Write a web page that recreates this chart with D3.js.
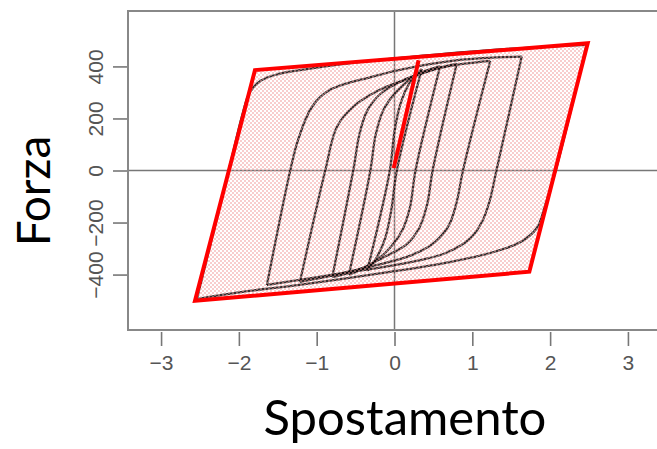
<!DOCTYPE html>
<html>
<head>
<meta charset="utf-8">
<script src="https://cdn.jsdelivr.net/npm/d3@7"></script>
<style>
  body { margin: 0; background: #fff; }
  svg { display: block; }
</style>
</head>
<body>
<svg width="657" height="449"></svg>
<script>
// Axis ticks
const xTicks = [-3, -2, -1, 0, 1, 2, 3]
const yTicks = [-400, -200, 0, 200, 400]

// Hysteresis loops: [displacement, force]
// each loop is split in a descending branch (top-right -> bottom-left)
// and a rising branch (bottom-left -> top-right)
const loop1Down = [[0.35, 390], [0.03, 0], [-0.04, -150], [-0.12, -260], [-0.22, -330], [-0.35, -385]]
const loop1Up = [[-0.35, -385], [-0.06, 0], [0.0, 150], [0.08, 260], [0.2, 340], [0.35, 390]]
const loop2Down = [[0.585, 400], [0.27, 0], [0.2, -140], [0.1, -230], [-0.05, -295], [-0.3, -360], [-0.585, -400]]
const loop2Up = [[-0.585, -400], [-0.31, 0], [-0.24, 140], [-0.13, 240], [0.05, 310], [0.3, 370], [0.585, 400]]
const loop3Down = [[0.8, 410], [0.49, 0], [0.42, -130], [0.32, -220], [0.15, -285], [-0.15, -335], [-0.45, -380], [-0.8, -410]]
const loop3Up = [[-0.8, -410], [-0.53, 0], [-0.45, 140], [-0.35, 230], [-0.18, 295], [0.1, 345], [0.45, 385], [0.8, 410]]
const loop4Down = [[1.23, 421], [0.88, 0], [0.8, -120], [0.7, -210], [0.52, -275], [0.22, -325], [-0.25, -365], [-0.75, -400], [-1.215, -428]]
const loop4Up = [[-1.215, -428], [-0.89, 0], [-0.74, 168], [-0.53, 245], [-0.19, 310], [0.15, 350], [0.6, 395], [1.23, 421]]
const loop5Down = [[1.635, 438], [1.31, 0], [1.22, -120], [1.12, -200], [0.97, -262], [0.65, -318], [0.07, -360], [-0.83, -402], [-1.64, -440]]
const loop5Up = [[-1.64, -440], [-1.34, 0], [-1.24, 117], [-1.06, 245], [-0.83, 310], [-0.28, 361], [0.07, 387], [0.84, 425], [1.635, 438]]
const loop6Down = [[2.47, 483], [2.08, 10], [1.93, -140], [1.83, -221], [1.62, -275], [1.23, -317], [0.71, -352], [-0.06, -390], [-1.2, -439], [-2.0, -468], [-2.54, -494]]
const loop6Up = [[-2.54, -494], [-2.13, 0], [-1.95, 220], [-1.86, 300], [-1.72, 345], [-1.5, 370], [-1.3, 382], [-0.57, 413], [0, 431], [1.23, 463], [2.47, 483]]

// Red envelope drawn over the loops, and the initial red branch
const envelope = [[-2.564, -501], [-1.793, 386], [2.483, 489], [1.733, -389]]
const firstBranch = [[-0.01, 9], [0.31, 424]]

const branches = [loop1Down, loop1Up, loop2Down, loop2Up, loop3Down, loop3Up,
  loop4Down, loop4Up, loop5Down, loop5Up, loop6Down, loop6Up]

const svg = d3.select('svg')

// Plot region (right side runs off the picture)
const x = d3.scaleLinear().domain([-3.425, 3.425]).range([128, 661])
const y = d3.scaleLinear().domain([-613, 613]).range([330, 11])

// Dotted pink fill pattern
const defs = svg.append('defs')
const pat = defs.append('pattern')
  .attr('id', 'dots')
  .attr('patternUnits', 'userSpaceOnUse')
  .attr('width', 4)
  .attr('height', 4)
pat.append('rect').attr('x', 0).attr('y', 0).attr('width', 2).attr('height', 2).attr('fill', '#f19c9c')
pat.append('rect').attr('x', 2).attr('y', 2).attr('width', 2).attr('height', 2).attr('fill', '#f19c9c')

defs.append('filter').attr('id', 'soft')
  .append('feGaussianBlur').attr('stdDeviation', 0.5)

// Zero lines
svg.append('line')
  .attr('x1', x.range()[0]).attr('x2', x.range()[1])
  .attr('y1', y(0)).attr('y2', y(0))
  .attr('stroke', '#777').attr('stroke-width', 1.5)
svg.append('line')
  .attr('x1', x(0)).attr('x2', x(0))
  .attr('y1', y.range()[1]).attr('y2', y.range()[0])
  .attr('stroke', '#777').attr('stroke-width', 1.5)

// Box
svg.append('rect')
  .attr('x', x.range()[0]).attr('y', y.range()[1])
  .attr('width', x.range()[1] - x.range()[0])
  .attr('height', y.range()[0] - y.range()[1])
  .attr('fill', 'none')
  .attr('stroke', '#888')
  .attr('stroke-width', 2)

// Axes
const xAxis = svg.append('g')
  .attr('transform', `translate(0, ${y.range()[0] + 2})`)
  .call(d3.axisBottom(x).tickValues(xTicks).tickFormat(d3.format('d'))
    .tickSize(14).tickSizeOuter(0).tickPadding(9))
xAxis.select('.domain').remove()
xAxis.selectAll('line').attr('stroke', '#777').attr('stroke-width', 1.6)
xAxis.selectAll('text')
  .attr('fill', '#555')
  .style('font-family', 'Liberation Sans, Arial, sans-serif')
  .style('font-size', '21px')

const yAxis = svg.append('g')
  .attr('transform', `translate(${x.range()[0] - 1}, 0)`)
  .call(d3.axisLeft(y).tickValues(yTicks).tickFormat(d3.format('d')).tickSize(14).tickSizeOuter(0))
yAxis.select('.domain').remove()
yAxis.selectAll('line').attr('stroke', '#777').attr('stroke-width', 1.6)
yAxis.selectAll('text')
  .attr('transform', 'rotate(-90)')
  .attr('x', 0)
  .attr('y', -31.5)
  .attr('dy', '0.35em')
  .attr('text-anchor', 'middle')
  .attr('fill', '#555')
  .style('font-family', 'Liberation Sans, Arial, sans-serif')
  .style('font-size', '21px')

// Loops
const line = d3.line()
  .x(d => x(d[0]))
  .y(d => y(d[1]))
  .curve(d3.curveCatmullRom.alpha(0.5))

svg.append('g')
  .attr('filter', 'url(#soft)')
  .selectAll('path')
  .data(branches)
  .enter()
  .append('path')
  .attr('d', line)
  .attr('fill', 'none')
  .attr('stroke', '#111')
  .attr('stroke-width', 2.3)
  .attr('stroke-opacity', 0.85)

// Envelope: dotted fill on top, then red outline
const straight = d3.line().x(d => x(d[0])).y(d => y(d[1]))

svg.append('path')
  .attr('d', straight(envelope) + 'Z')
  .attr('fill', 'url(#dots)')
  .attr('fill-opacity', 0.5)

svg.append('path')
  .attr('d', straight(envelope) + 'Z')
  .attr('fill', 'none')
  .attr('stroke', '#ff0000')
  .attr('stroke-width', 4)
  .attr('stroke-linejoin', 'miter')

svg.append('path')
  .attr('d', straight(firstBranch))
  .attr('fill', 'none')
  .attr('stroke', '#ff0000')
  .attr('stroke-width', 4)

// Axis titles
svg.append('text')
  .attr('transform', 'translate(50, 191) rotate(-90)')
  .attr('text-anchor', 'middle')
  .style('font-family', 'Lato, sans-serif')
  .style('font-size', '46px')
  .text('Forza')

svg.append('text')
  .attr('x', 405)
  .attr('y', 435)
  .attr('text-anchor', 'middle')
  .style('font-family', 'Lato, sans-serif')
  .style('font-size', '49px')
  .text('Spostamento')
</script>
</body>
</html>
